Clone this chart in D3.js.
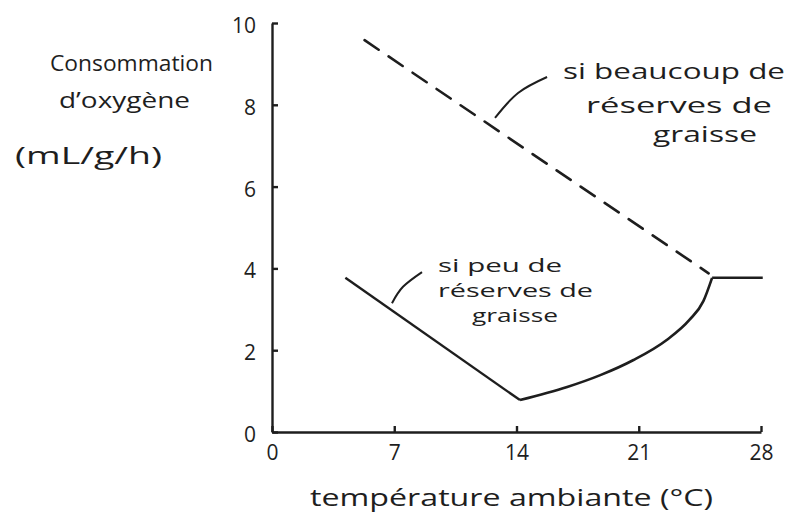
<!DOCTYPE html>
<html>
<head>
<meta charset="utf-8">
<script src="https://cdn.jsdelivr.net/npm/d3@7"></script>
<style>
  body { margin: 0; background: #fff; }
  text { font-family: "Open Sans", "DejaVu Sans", sans-serif; fill: #1e1e1e; }
</style>
</head>
<body>
<svg width="786" height="518"></svg>
<script>
// values
var xTicks = [0, 7, 14, 21, 28];
var yTicks = [0, 2, 4, 6, 8, 10];

// si beaucoup de reserves de graisse (dashed)
var fatTemp = [5.3, 25.0];
var fatO2   = [9.58, 3.88];

// si peu de reserves de graisse (solid)
var leanTemp = [4.2, 14.2, 16.9, 18.8, 20.7, 22.6, 23.9, 24.7, 25.2, 28.1];
var leanO2   = [3.77, 0.78, 1.10, 1.39, 1.76, 2.25, 2.74, 3.2, 3.77, 3.77];

// leader lines from the labels (temp, O2)
var leaderFat  = [[15.75, 8.68], [14.09, 8.29], [12.77, 7.68]];
var leaderLean = [[8.59, 3.91], [7.50, 3.55], [6.87, 3.15]];

var svg = d3.select("svg");
var ink = "#1e1e1e";

var x = d3.scaleLinear().domain([0, 28]).range([272, 761]);
var y = d3.scaleLinear().domain([0, 10]).range([432, 23]);

var fat = fatTemp.map(function(t, i) { return [t, fatO2[i]]; });
var lean = leanTemp.map(function(t, i) { return [t, leanO2[i]]; });

// axes
var yAxis = svg.append("g")
  .attr("transform", "translate(" + x(0) + ",0)")
  .call(d3.axisLeft(y).tickValues(yTicks).tickSizeInner(-6).tickSizeOuter(0).tickPadding(16));
var xAxis = svg.append("g")
  .attr("transform", "translate(0," + y(0) + ")")
  .call(d3.axisBottom(x).tickValues(xTicks).tickSizeInner(-6).tickSizeOuter(0).tickPadding(13));

[xAxis, yAxis].forEach(function(a) {
  a.selectAll("path, line").attr("stroke", ink).attr("stroke-width", 2.4);
  a.selectAll("text").style("font-size", "21px").attr("fill", ink)
   .style("font-family", "'Open Sans', sans-serif");
});
yAxis.selectAll("text").attr("dy", "0.45em");

var line = d3.line().x(function(d) { return x(d[0]); }).y(function(d) { return y(d[1]); });

svg.append("path")
  .attr("d", line(fat))
  .attr("fill", "none").attr("stroke", ink).attr("stroke-width", 2.6)
  .attr("stroke-dasharray", "17,12").attr("stroke-linecap", "round");

// lean curve: straight fall, curved rise, flat plateau
svg.append("path")
  .attr("d", line(lean.slice(0, 2)))
  .attr("fill", "none").attr("stroke", ink).attr("stroke-width", 2.4);
svg.append("path")
  .attr("d", line.curve(d3.curveMonotoneX)(lean.slice(1, 9)))
  .attr("fill", "none").attr("stroke", ink).attr("stroke-width", 2.6);
line.curve(d3.curveLinear);
svg.append("path")
  .attr("d", line(lean.slice(8)))
  .attr("fill", "none").attr("stroke", ink).attr("stroke-width", 2.4);

var leader = d3.line().curve(d3.curveNatural)
  .x(function(d) { return x(d[0]); }).y(function(d) { return y(d[1]); });
[leaderFat, leaderLean].forEach(function(l) {
  svg.append("path").attr("d", leader(l))
    .attr("fill", "none").attr("stroke", ink).attr("stroke-width", 2);
});

// texts: string, left x, baseline y, width, size
function label(s, lx, by, w, fs) {
  svg.append("text").attr("x", lx).attr("y", by)
    .attr("textLength", w).attr("lengthAdjust", "spacingAndGlyphs")
    .style("font-size", fs + "px").text(s);
}
label("Consommation", 50, 71, 163, 22);
label("d\u2019oxyg\u00e8ne", 59, 108, 131, 22);
label("(mL/g/h)", 15, 164, 147, 24);

label("si beaucoup de", 563, 79, 222, 22);
label("r\u00e9serves de", 586, 113, 186, 22);
label("graisse", 653, 142, 104, 22);

label("si peu de", 438, 272, 124, 18);
label("r\u00e9serves de", 438, 297, 155, 18);
label("graisse", 472, 322, 86, 18);

label("temp\u00e9rature ambiante (\u00b0C)", 310, 506, 403, 23);
</script>
</body>
</html>
